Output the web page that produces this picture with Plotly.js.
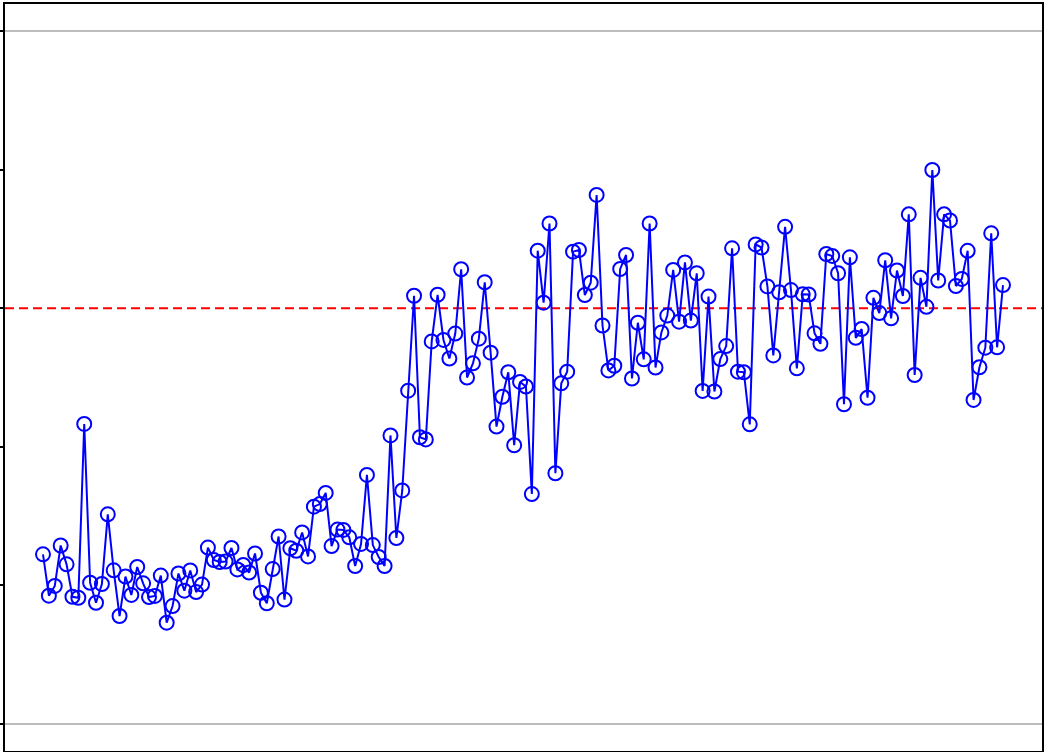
<!DOCTYPE html>
<html>
<head>
<meta charset="utf-8">
<script src="https://cdn.plot.ly/plotly-3.0.1.min.js"></script>
<style>html,body{margin:0;padding:0;background:#fff;}#chart{width:1049px;height:752px;}</style>
</head>
<body>
<div id="chart"></div>
<script>
// Series values (sample order)
const values = [
 1.224, 0.926, 0.996, 1.288, 1.152, 0.918, 0.911, 2.165, 1.019, 0.875,
 1.010, 1.513, 1.109, 0.779, 1.064, 0.931, 1.133, 1.015, 0.916, 0.924,
 1.071, 0.731, 0.851, 1.086, 0.962, 1.108, 0.952, 1.006, 1.273, 1.183,
 1.169, 1.172, 1.270, 1.115, 1.147, 1.093, 1.230, 0.947, 0.871, 1.118,
 1.353, 0.898, 1.268, 1.250, 1.382, 1.209, 1.568, 1.587, 1.667, 1.284,
 1.403, 1.400, 1.347, 1.140, 1.299, 1.797, 1.291, 1.205, 1.140, 2.082,
 1.342, 1.685, 2.405, 3.090, 2.069, 2.053, 2.760, 3.097, 2.771, 2.637,
 2.817, 3.281, 2.500, 2.602, 2.780, 3.187, 2.679, 2.146, 2.361, 2.538,
 2.011, 2.468, 2.435, 1.659, 3.415, 3.040, 3.611, 1.809, 2.458, 2.542,
 3.408, 3.420, 3.095, 3.184, 3.817, 2.875, 2.551, 2.585, 3.283, 3.384,
 2.493, 2.895, 2.631, 3.611, 2.572, 2.825, 2.947, 3.276, 2.903, 3.330,
 2.911, 3.252, 2.403, 3.084, 2.399, 2.633, 2.727, 3.432, 2.542, 2.538,
 2.162, 3.460, 3.438, 3.157, 2.659, 3.115, 3.587, 3.131, 2.566, 3.100,
 3.099, 2.819, 2.743, 3.391, 3.377, 3.252, 2.307, 3.367, 2.786, 2.850,
 2.354, 3.075, 2.965, 3.346, 2.927, 3.272, 3.088, 3.677, 2.518, 3.219,
 3.010, 3.997, 3.200, 3.677, 3.633, 3.160, 3.211, 3.414, 2.338, 2.574,
 2.715, 3.540, 2.718, 3.167
];
const sampleNo = values.map((v, i) => i + 1);
const targetLevel = 3;          // red dashed reference line
const limitLevels = [0, 5];     // grey horizontal lines
const yTicks = [0, 1, 2, 3, 4, 5];

const trace = {
  x: sampleNo,
  y: values,
  type: 'scatter',
  mode: 'lines+markers',
  line: {color: '#0000ff', width: 2},
  marker: {symbol: 'circle-open', size: 14, color: '#0000ff', line: {width: 2, color: '#0000ff'}},
  hoverinfo: 'x+y'
};

const shapes = limitLevels.map(v => ({
  type: 'line', xref: 'paper', x0: 0, x1: 1, yref: 'y', y0: v, y1: v,
  line: {color: '#bdbdbd', width: 2}, layer: 'below'
}));
shapes.push({
  type: 'line', xref: 'paper', x0: 0, x1: 1, yref: 'y', y0: targetLevel, y1: targetLevel,
  line: {color: '#ff0000', width: 2, dash: '9px,5px'}, layer: 'below'
});

const layout = {
  width: 1049, height: 752,
  margin: {l: 5, r: 7, t: 4, b: 1, pad: 0},
  paper_bgcolor: '#ffffff', plot_bgcolor: '#ffffff',
  showlegend: false,
  xaxis: {
    range: [-5.452, 170.622], showgrid: false, zeroline: false,
    showticklabels: false, ticks: '',
    showline: true, mirror: true, linecolor: '#000000', linewidth: 2
  },
  yaxis: {
    range: [-0.1948, 5.1948], showgrid: false, zeroline: false,
    tickvals: yTicks, showticklabels: false, ticks: 'outside', ticklen: 5, tickwidth: 2, tickcolor: '#000000',
    showline: true, mirror: true, linecolor: '#000000', linewidth: 2
  },
  shapes: shapes
};

Plotly.newPlot('chart', [trace], layout, {displayModeBar: false, staticPlot: true});
</script>
</body>
</html>
